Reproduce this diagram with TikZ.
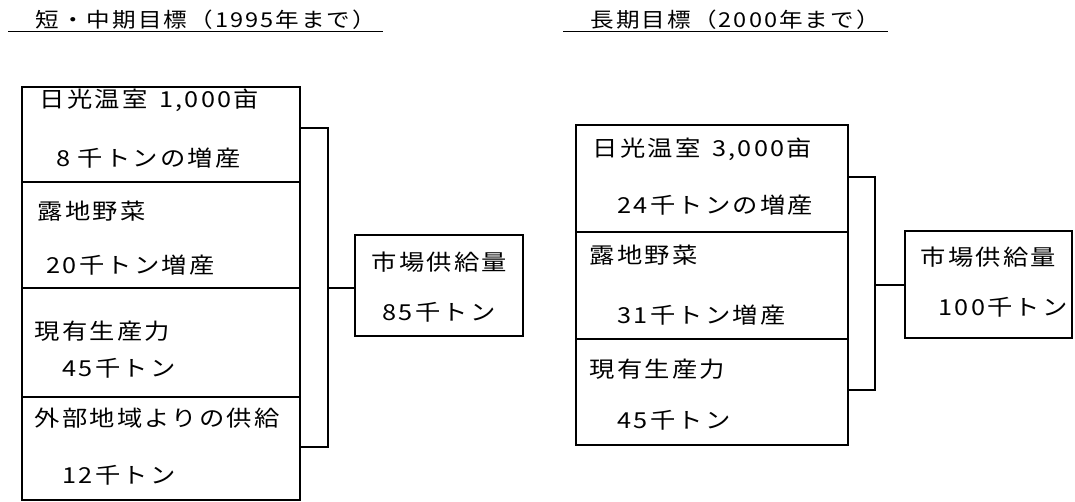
\documentclass[tikz,border=0pt]{standalone}
\usepackage{fontspec}
\newfontfamily\jp[FakeStretch=1.15,LetterSpace=10]{Noto Sans CJK JP}
\begin{document}
\begin{tikzpicture}[x=1pt,y=-1pt,
  line width=1.3pt,
  boxst/.style={draw, rectangle, anchor=north west, inner sep=0pt, outer sep=0pt},
  txt/.style={anchor=west, inner sep=0pt, font=\jp\fontsize{22}{24}\selectfont},
  ttl/.style={anchor=west, inner sep=0pt, font=\jp\fontsize{20.5}{22}\selectfont}]
\useasboundingbox (0,0) rectangle (1075,502);
\fill[white] (0,0) rectangle (1075,502);

% titles
\node[ttl] (t1) at (35,20) {短・中期目標（1995年まで）};
\node[ttl] (t2) at (590,20) {長期目標（2000年まで）};
\coordinate (u1a) at (8,32);
\coordinate (u1b) at (383,32);
\coordinate (u2a) at (563,32);
\coordinate (u2b) at (888,32);
\draw[line width=1pt] (u1a) -- (u1b);
\draw[line width=1pt] (u2a) -- (u2b);

% left column boxes
\node[boxst, minimum width=278pt, minimum height=95pt] (L1) at (22,87) {};
\node[boxst, minimum width=278pt, minimum height=106pt] (L2) at (22,182) {};
\node[boxst, minimum width=278pt, minimum height=109pt] (L3) at (22,288) {};
\node[boxst, minimum width=278pt, minimum height=103pt] (L4) at (22,397) {};

\node[txt] (l1a) at (39,100) {日光温室\hspace{12pt}1,000亩};
\node[txt] (l1b) at (56,158) {8\hspace{7pt}千トンの増産};
\node[txt] (l2a) at (37,211) {露地野菜};
\node[txt] (l2b) at (46,265) {20千トン増産};
\node[txt] (l3a) at (34,331) {現有生産力};
\node[txt] (l3b) at (62,368) {45千トン};
\node[txt] (l4a) at (34,418) {外部地域よりの供給};
\node[txt] (l4b) at (62,475) {12千トン};

% left market box
\node[boxst, minimum width=168pt, minimum height=101pt] (M1) at (355,235) {};
\node[txt] (m1a) at (371,262) {市場供給量};
\node[txt] (m1b) at (382,312) {85千トン};

% left bracket
\coordinate (lbt) at (328,128);
\coordinate (lbb) at (328,447);
\coordinate (lj) at (328,288);
\draw (lbt -| L1.east) -- (lbt) -- (lbb) -- (lbb -| L4.east);
\draw (lj) -- (lj -| M1.west);

% right column boxes
\node[boxst, minimum width=272pt, minimum height=107pt] (R1) at (576,125) {};
\node[boxst, minimum width=272pt, minimum height=107pt] (R2) at (576,232) {};
\node[boxst, minimum width=272pt, minimum height=106pt] (R3) at (576,339) {};

\node[txt] (r1a) at (592,149) {日光温室\hspace{12pt}3,000亩};
\node[txt] (r1b) at (617,205) {24千トンの増産};
\node[txt] (r2a) at (589,255) {露地野菜};
\node[txt] (r2b) at (617,315) {31千トン増産};
\node[txt] (r3a) at (589,369) {現有生産力};
\node[txt] (r3b) at (617,420) {45千トン};

% right market box
\node[boxst, minimum width=167pt, minimum height=107pt] (M2) at (905,231) {};
\node[txt] (m2a) at (920,257) {市場供給量};
\node[txt] (m2b) at (938,307) {100千トン};

% right bracket
\coordinate (rbt) at (875,177);
\coordinate (rbb) at (875,390);
\coordinate (rj) at (875,285);
\draw (rbt -| R1.east) -- (rbt) -- (rbb) -- (rbb -| R3.east);
\draw (rj) -- (rj -| M2.west);
\end{tikzpicture}
\end{document}
